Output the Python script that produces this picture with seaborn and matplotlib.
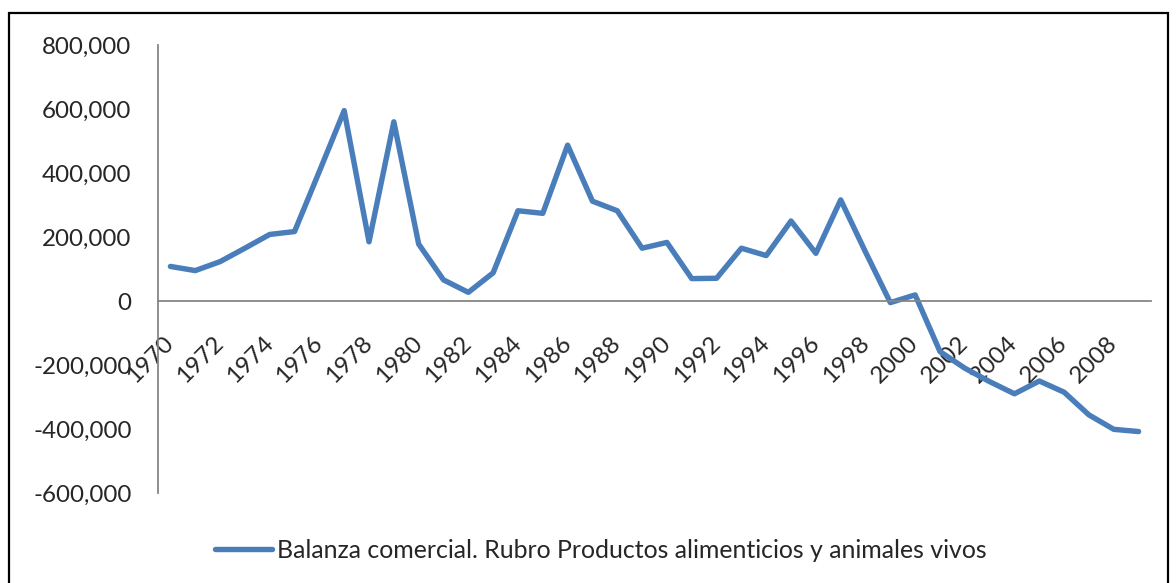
import numpy as np
import pandas as pd
import matplotlib
matplotlib.use("Agg")
import matplotlib.pyplot as plt
import matplotlib.patches as mpatches
from matplotlib.ticker import FuncFormatter
import seaborn as sns

# Data
years = list(range(1970, 2010))
balance = [
    108000, 95000, 123000, 165000, 208000, 217000, 405000, 595000, 185000, 560000,
    178000, 66000, 27000, 88000, 282000, 274000, 487000, 312000, 282000, 165000,
    183000, 70000, 71000, 165000, 142000, 250000, 149000, 316000, 153000, -5000,
    19000, -158000, -210000, -252000, -290000, -250000, -285000, -356000, -401000, -408000,
]
series_name = "Balanza comercial. Rubro Productos alimenticios y animales vivos"
y_ticks = [-600000, -400000, -200000, 0, 200000, 400000, 600000, 800000]

df = pd.DataFrame({"pos": np.arange(len(years)), "year": years, "value": balance})

sns.set_style("white")
plt.rcParams["font.family"] = ["Lato", "DejaVu Sans"]

W, H = 1176, 583
fig = plt.figure(figsize=(W / 100, H / 100), dpi=100)
ax = fig.add_axes([158 / W, 1 - 493 / H, (1151 - 158) / W, (493 - 45) / H])

line_color = "#4A7EBB"
sns.lineplot(data=df, x="pos", y="value", ax=ax, color=line_color, linewidth=3.9,
             label=series_name, legend=False)
for ln in ax.lines:
    ln.set_solid_capstyle("round")
    ln.set_solid_joinstyle("round")

ax.set_xlim(-0.5, len(years) - 0.5)
ax.set_ylim(-600000, 800000)
ax.set_yticks(y_ticks)
ax.yaxis.set_major_formatter(FuncFormatter(lambda v, p: f"{v:,.0f}"))
ax.set_xticks(df["pos"][::2])
ax.set_xticklabels([str(y) for y in years[::2]])
ax.set_xlabel("")
ax.set_ylabel("")

axis_gray = "#868686"
for side in ["top", "right"]:
    ax.spines[side].set_visible(False)
ax.spines["left"].set_color(axis_gray)
ax.spines["left"].set_linewidth(1.3)
ax.spines["bottom"].set_color(axis_gray)
ax.spines["bottom"].set_linewidth(1.3)
ax.spines["bottom"].set_position(("data", 0))

ax.tick_params(axis="y", length=0, pad=19, labelsize=17.4)
ax.tick_params(axis="x", length=0, pad=28, labelsize=17.4)
for lbl in ax.get_xticklabels():
    lbl.set_rotation(45)
    lbl.set_ha("right")
    lbl.set_va("center")
    lbl.set_rotation_mode("anchor")

handles, labels = ax.get_legend_handles_labels()
leg = fig.legend(handles, labels, loc="center", bbox_to_anchor=(601 / W, 1 - 550 / H),
                 frameon=False, fontsize=17.9, handlelength=2.3, handletextpad=0.2)
for h in leg.get_lines():
    h.set_solid_capstyle("round")

# outer chart border (bottom edge is cut off in the reference)
fig.patches.append(mpatches.Rectangle((9 / W, -0.05), 1159 / W, 1 - 13 / H + 0.05,
                                      transform=fig.transFigure, fill=False,
                                      edgecolor="black", linewidth=1.6))

fig.savefig("out.png", dpi=100)
